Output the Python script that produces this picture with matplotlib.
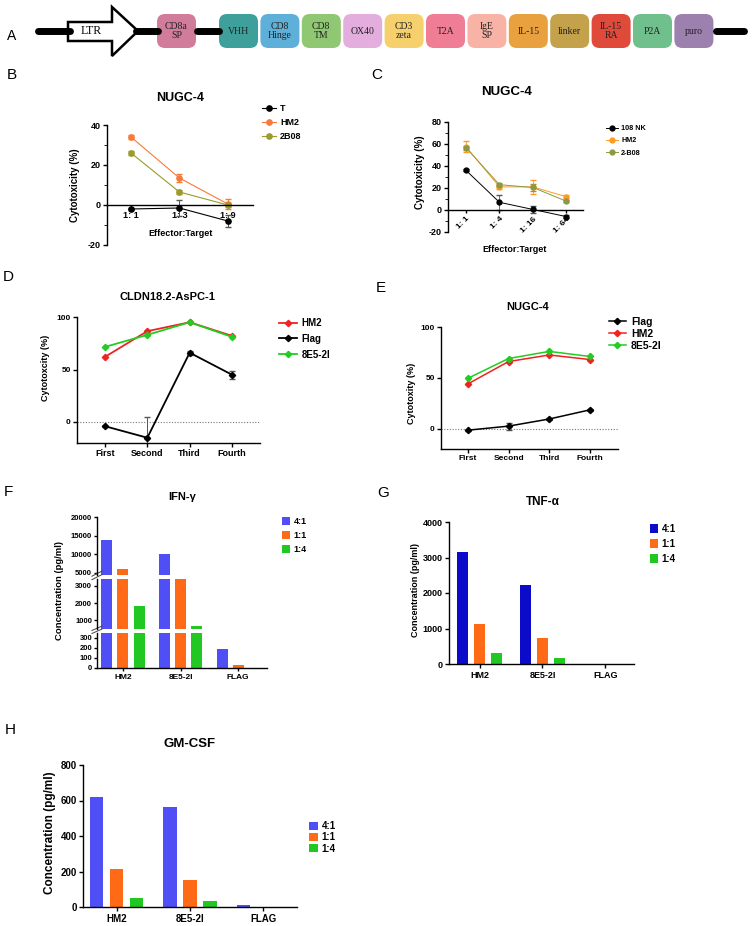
import matplotlib
matplotlib.use("Agg")
import matplotlib.pyplot as plt
import numpy as np
from matplotlib.patches import FancyBboxPatch, Polygon
from matplotlib.lines import Line2D

plt.rcParams['font.family'] = ['Liberation Sans', 'DejaVu Sans']
plt.rcParams['font.weight'] = 'bold'
plt.rcParams['axes.linewidth'] = 1.0
plt.rcParams['axes.unicode_minus'] = False
plt.rcParams['xtick.major.width'] = 1.0
plt.rcParams['ytick.major.width'] = 1.0

# ---- data ----
# A: CAR construct
construct_parts = ["CD8a\nSP", "VHH", "CD8\nHinge", "CD8\nTM", "OX40", "CD3\nzeta", "T2A",
                   "IgE\nSP", "IL-15", "linker", "IL-15\nRA", "P2A", "puro"]
construct_colors = ["#d27c9c", "#3f9f9b", "#5eb0d8", "#8fc772", "#e3aede", "#f6d06c", "#ef7d93",
                    "#f8b3a6", "#e8a13e", "#c4a24c", "#df4a3a", "#6fc08c", "#9c80ad"]

# B: NUGC-4, T / HM2 / 2B08
ratios_b = ["1: 1", "1: 3", "1: 9"]
b_T = [-2, -1.5, -8]
b_T_err = [0.5, 4, 3]
b_HM2 = [34, 13.5, 0.5]
b_HM2_err = [1, 2, 2.5]
b_2B08 = [26, 6.5, 0]
b_2B08_err = [1, 1, 1]

# C: NUGC-4, 108 NK / HM2 / 2-B08
ratios_c = ["1: 1", "1: 4", "1: 16", "1: 64"]
c_NK = [36, 7, 0.5, -6]
c_NK_err = [1, 7, 3, 1]
c_HM2 = [57.5, 21, 21, 12]
c_HM2_err = [5, 2, 6.5, 1.5]
c_2B08 = [56.5, 23, 20.5, 8]
c_2B08_err = [2, 1.5, 3, 1]

# D: CLDN18.2-AsPC-1
rounds = ["First", "Second", "Third", "Fourth"]
d_HM2 = [62, 86.5, 95, 82]
d_Flag = [-4, -15, 66, 45]
d_Flag_err = [0.5, 20, 2, 4]
d_8E5 = [71.5, 83, 95, 81]

# E: NUGC-4
e_Flag = [-1.5, 2.5, 9.5, 18.5]
e_Flag_err = [0.5, 3.5, 1, 1]
e_HM2 = [44, 66, 72.5, 68]
e_8E5 = [49.5, 69, 76, 71]

# F/G/H: cytokines
groups = ["HM2", "8E5-2I", "FLAG"]
et_ratios = ["4:1", "1:1", "1:4"]
ifn_41 = [13750, 10000, 195]
ifn_11 = [6000, 3600, 30]
ifn_14 = [1820, 650, 0]
tnf_41 = [3160, 2220, 0]
tnf_11 = [1125, 730, 0]
tnf_14 = [315, 160, 0]
gm_41 = [622, 566, 11]
gm_11 = [213, 153, 2]
gm_14 = [52, 32, 0]

W, H = 753, 926
fig = plt.figure(figsize=(W / 100, H / 100), dpi=100)


def px_axes(l, t, r, b):
    return fig.add_axes([l / W, 1 - b / H, (r - l) / W, (b - t) / H])


def ftext(x, y, s, **kw):
    kw.setdefault('ha', 'center')
    kw.setdefault('va', 'center')
    return fig.text(x / W, 1 - y / H, s, **kw)


def legend_at(ax, handles, labels, x, y, size, pitch_px, **kw):
    fs_px = size / 72 * 100
    spacing = (pitch_px - fs_px * 1.15) / fs_px
    return ax.legend(handles, labels, loc='upper left', bbox_to_anchor=(x / W, 1 - y / H),
                     bbox_transform=fig.transFigure, frameon=False, fontsize=size,
                     borderpad=0, borderaxespad=0, labelspacing=max(spacing, 0),
                     **kw)


def key(color, marker, ms, lw):
    return Line2D([], [], color=color, marker=marker, ms=ms, lw=lw)


# ---- A: construct diagram ----
axA = px_axes(0, 0, W, 62)
axA.set_xlim(0, W)
axA.set_ylim(62, 0)
axA.axis('off')
line_y = 31
axA.plot([38, 70], [line_y, line_y], color='black', lw=5, solid_capstyle='round')
axA.plot([136, 158], [line_y, line_y], color='black', lw=5, solid_capstyle='round')
axA.plot([197, 219], [line_y, line_y], color='black', lw=5, solid_capstyle='round')
axA.plot([716, 744], [line_y, line_y], color='black', lw=5, solid_capstyle='round')
arrow = Polygon([[68, 22], [112, 22], [112, 7], [138, line_y], [112, 56], [112, 41], [68, 41]],
                closed=True, facecolor='white', edgecolor='black', lw=1.8)
axA.add_patch(arrow)
axA.text(91, line_y, "LTR", ha='center', va='center', family='Liberation Serif',
         fontweight='normal', fontsize=8.5)
ftext(12, 36, "A", fontsize=10, fontweight='normal')

box_w, box_h = 39, 34
first_x = 157
pitch = 41.4
for i, (name, col) in enumerate(zip(construct_parts, construct_colors)):
    if i == 0:
        x0 = first_x
    else:
        x0 = 219 + (i - 1) * pitch
    box = FancyBboxPatch((x0 + 3, line_y - box_h / 2 + 3), box_w - 6, box_h - 6,
                         boxstyle="round,pad=3,rounding_size=8", facecolor=col,
                         edgecolor='none')
    axA.add_patch(box)
    axA.text(x0 + box_w / 2, line_y, name, ha='center', va='center',
             family='Liberation Serif', fontweight='normal', fontsize=7, color='#222222',
             linespacing=1.0)


def style_line_axes(ax):
    ax.spines['top'].set_visible(False)
    ax.spines['right'].set_visible(False)
    ax.tick_params(axis='both', labelsize=6.5, length=3, pad=1.5)


# ---- B ----
axB = px_axes(107, 125, 253, 245)
style_line_axes(axB)
xb = np.arange(len(ratios_b))
b_colors = ['black', '#f87a3a', '#9a9b2c']
for vals, err, col in zip([b_T, b_HM2, b_2B08], [b_T_err, b_HM2_err, b_2B08_err], b_colors):
    axB.errorbar(xb, vals, yerr=err, color=col, ecolor=col if col != 'black' else '#555555',
                 marker='o', ms=3.8, lw=0.8, elinewidth=0.7, capsize=2)
axB.set_xlim(-0.495, 2.52)
axB.set_ylim(-20, 40)
axB.set_yticks([-20, 0, 20, 40])
axB.set_yticks([-10, 10, 30], minor=True)
axB.tick_params(axis='y', which='minor', length=2)
axB.spines['bottom'].set_position(('data', 0))
axB.set_xticks(xb)
axB.set_xticklabels(ratios_b)
axB.tick_params(axis='x', length=2, pad=2)
ftext(180, 98, "NUGC-4", fontsize=9)
ftext(181, 233, "Effector:Target", fontsize=6.5)
ftext(75, 185, "Cytotoxicity (%)", fontsize=7, rotation=90)
ftext(12, 75, "B", fontsize=11, fontweight='normal')
legend_at(axB, [key(c, 'o', 3.8, 0.8) for c in b_colors], ["T", "HM2", "2B08"],
          262, 104, 6.5, 15.5, handlelength=1.6, handletextpad=0.4)

# ---- C ----
axC = px_axes(448, 122, 583, 232)
style_line_axes(axC)
xc = np.arange(len(ratios_c))
c_colors = ['black', '#ff9a22', '#8c9842']
for vals, err, col in zip([c_NK, c_HM2, c_2B08], [c_NK_err, c_HM2_err, c_2B08_err], c_colors):
    axC.errorbar(xc, vals, yerr=err, color=col, ecolor=col if col != 'black' else '#555555',
                 marker='o', ms=3.5, lw=0.7, elinewidth=0.6, capsize=2)
axC.set_xlim(-0.54, 3.5)
axC.set_ylim(-20, 80)
axC.set_yticks([-20, 0, 20, 40, 60, 80])
axC.set_yticks([-10, 10, 30, 50, 70], minor=True)
axC.tick_params(axis='y', which='minor', length=2)
axC.spines['bottom'].set_position(('data', 0))
axC.set_xticks(xc)
axC.set_xticklabels(ratios_c, rotation=45, ha='right', va='top', rotation_mode='anchor')
axC.tick_params(axis='x', length=2, pad=2, labelsize=6)
ftext(507, 92, "NUGC-4", fontsize=9.5)
ftext(515, 249, "Effector:Target", fontsize=6.5)
ftext(420, 172, "Cytotoxicity (%)", fontsize=7, rotation=90)
ftext(377, 75, "C", fontsize=11, fontweight='normal')
legend_at(axC, [key(c, 'o', 3.5, 0.7) for c in c_colors], ["108 NK", "HM2", "2-B08"],
          606, 125, 5.2, 13.5, handlelength=1.6, handletextpad=0.5)

# ---- D ----
red = '#f02222'
lgreen = '#22cc22'
axD = px_axes(77, 317, 260, 443)
style_line_axes(axD)
xd = np.arange(len(rounds))
axD.axhline(0, color='#777777', lw=0.8, ls=(0, (1, 1.5)))
axD.plot(xd, d_HM2, color=red, marker='D', ms=3.2, lw=1.3)
axD.errorbar(xd, d_Flag, yerr=d_Flag_err, color='black', ecolor='#555555', marker='D',
             ms=3.2, lw=1.3, elinewidth=0.7, capsize=2)
axD.plot(xd, d_8E5, color=lgreen, marker='D', ms=3.2, lw=1.3)
axD.set_xlim(-0.66, 3.66)
axD.set_ylim(-20, 100)
axD.set_yticks([0, 50, 100])
axD.set_xticks(xd)
axD.set_xticklabels(rounds)
axD.tick_params(axis='y', labelsize=6)
axD.tick_params(axis='x', labelsize=6.5)
ftext(167, 297, "CLDN18.2-AsPC-1", fontsize=8)
ftext(45, 368, "Cytotoxcity (%)", fontsize=6.5, rotation=90)
ftext(8, 277, "D", fontsize=11, fontweight='normal')
legend_at(axD, [key(c, 'D', 3.2, 1.3) for c in [red, 'black', lgreen]],
          ["HM2", "Flag", "8E5-2I"], 279, 318, 7, 17, handlelength=1.8, handletextpad=0.5)

# ---- E ----
axE = px_axes(441, 327, 618, 449)
style_line_axes(axE)
xe = np.arange(len(rounds))
axE.axhline(0, color='#777777', lw=0.8, ls=(0, (1, 1.5)))
axE.errorbar(xe, e_Flag, yerr=e_Flag_err, color='black', ecolor='#555555', marker='D',
             ms=3.2, lw=1.1, elinewidth=0.7, capsize=2)
axE.plot(xe, e_HM2, color=red, marker='D', ms=3.2, lw=1.1)
axE.plot(xe, e_8E5, color=lgreen, marker='D', ms=3.2, lw=1.1)
axE.set_xlim(-0.66, 3.69)
axE.set_ylim(-20, 100)
axE.set_yticks([0, 50, 100])
axE.set_xticks(xe)
axE.set_xticklabels(rounds)
axE.tick_params(axis='y', labelsize=6)
axE.tick_params(axis='x', labelsize=6)
ftext(528, 307, "NUGC-4", fontsize=8)
ftext(412, 393, "Cytotoxity (%)", fontsize=6.5, rotation=90)
ftext(381, 288, "E", fontsize=11, fontweight='normal')
legend_at(axE, [key(c, 'D', 3.2, 1.1) for c in ['black', red, lgreen]],
          ["Flag", "HM2", "8E5-2I"], 609, 317, 7.5, 14, handlelength=1.6, handletextpad=0.5)


# ---- bar panels ----
def bars(ax, series, colors, width, offset):
    xg = np.arange(len(groups))
    for k, (vals, col) in enumerate(zip(series, colors)):
        ax.bar(xg + (k - 1) * offset, vals, width=width, color=col, label=et_ratios[k])
    ax.spines['top'].set_visible(False)
    ax.spines['right'].set_visible(False)
    return xg


blue_f = '#4f4ff5'
orange = '#ff6a16'
green = '#22c822'
blue_g = '#0b0bc9'

# F: broken axis, three segments
f_series = [ifn_41, ifn_11, ifn_14]
f_colors = [blue_f, orange, green]
axF_top = px_axes(97, 517, 267, 574.5)
axF_mid = px_axes(97, 579, 267, 629)
axF_bot = px_axes(97, 633, 267, 668)
for ax, lim, ticks in [(axF_top, (4500, 20000), [5000, 10000, 15000, 20000]),
                       (axF_mid, (500, 3400), [1000, 2000, 3000]),
                       (axF_bot, (0, 350), [0, 100, 200, 300])]:
    bars(ax, f_series, f_colors, 0.19, 0.28)
    ax.set_xlim(-0.45, 2.5)
    ax.set_ylim(*lim)
    ax.set_yticks(ticks)
    ax.tick_params(axis='y', labelsize=5.5, length=2.5, pad=1)
    if ax is not axF_bot:
        ax.spines['bottom'].set_visible(False)
        ax.set_xticks([])
for ax in (axF_top, axF_mid):
    ax.plot([-0.03, 0.03], [-0.09, 0.0], transform=ax.transAxes, color='#444444',
            lw=0.7, clip_on=False)
    ax.plot([-0.03, 0.03], [-0.03, 0.06], transform=ax.transAxes, color='#444444',
            lw=0.7, clip_on=False)
axF_bot.set_xticks(np.arange(len(groups)))
axF_bot.set_xticklabels(groups)
axF_bot.tick_params(axis='x', labelsize=6, length=2.5, pad=2)
ftext(182, 497, "IFN-\u03b3", fontsize=8)
ftext(59, 590, "Concentration (pg/ml)", fontsize=6.8, rotation=90)
ftext(8, 492, "F", fontsize=11, fontweight='normal')
hF, lF = axF_top.get_legend_handles_labels()
legend_at(axF_top, hF, lF, 282, 517, 6.5, 15.5, handlelength=0.9, handleheight=0.9,
          handletextpad=0.4)

# G
axG = px_axes(449, 522, 634, 664)
bars(axG, [tnf_41, tnf_11, tnf_14], [blue_g, orange, green], 0.18, 0.27)
axG.set_xlim(-0.49, 2.46)
axG.set_ylim(0, 4000)
axG.set_yticks([0, 1000, 2000, 3000, 4000])
axG.set_xticks(np.arange(len(groups)))
axG.set_xticklabels(groups)
axG.tick_params(axis='y', labelsize=6.5, length=3, pad=1.5)
axG.tick_params(axis='x', labelsize=6.5, length=3, pad=2)
ftext(543, 502, "TNF-\u03b1", fontsize=8.5)
ftext(416, 590, "Concentration (pg/ml)", fontsize=6.5, rotation=90)
ftext(383, 493, "G", fontsize=11, fontweight='normal')
hG, lG = axG.get_legend_handles_labels()
legend_at(axG, hG, lG, 650, 524, 7, 16, handlelength=0.8, handleheight=1.1,
          handletextpad=0.4)

# H
axH = px_axes(83, 765, 297, 907)
bars(axH, [gm_41, gm_11, gm_14], [blue_f, orange, green], 0.18, 0.273)
axH.set_xlim(-0.46, 2.46)
axH.set_ylim(0, 800)
axH.set_yticks([0, 200, 400, 600, 800])
axH.set_xticks(np.arange(len(groups)))
axH.set_xticklabels(groups)
axH.tick_params(axis='y', labelsize=7, length=3, pad=1.5)
axH.tick_params(axis='x', labelsize=7, length=3, pad=2)
ftext(190, 744, "GM-CSF", fontsize=9.5)
ftext(50, 833, "Concentration (pg/ml)", fontsize=8.5, rotation=90)
ftext(10, 730, "H", fontsize=11, fontweight='normal')
hH, lH = axH.get_legend_handles_labels()
legend_at(axH, hH, lH, 309, 821, 7, 12.5, handlelength=0.9, handleheight=0.9,
          handletextpad=0.4)

fig.savefig("out.png", dpi=100)
